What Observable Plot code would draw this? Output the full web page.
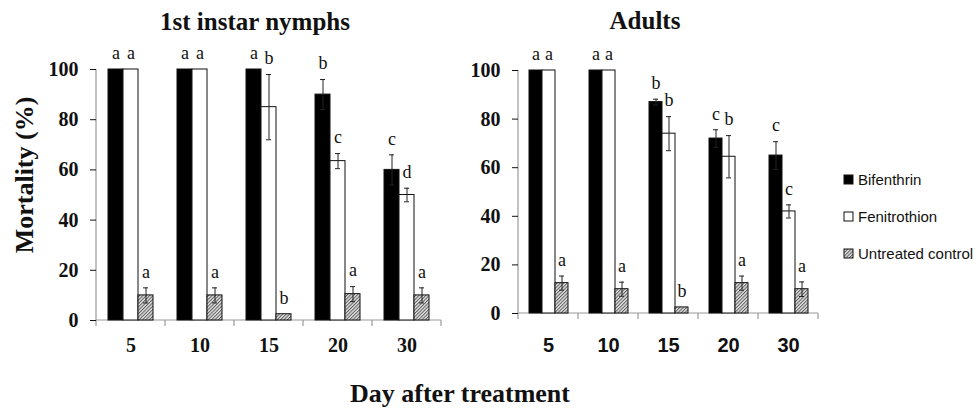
<!DOCTYPE html>
<html>
<head>
<meta charset="utf-8">
<script src="https://cdn.jsdelivr.net/npm/d3@7"></script>
<script src="https://cdn.jsdelivr.net/npm/@observablehq/plot@0.6"></script>
<style>
  body { margin: 0; background: #fff; }
  #root { position: relative; width: 978px; height: 409px; background: #fff; overflow: hidden; }
  #left, #right { position: absolute; top: 0; }
  #left { left: 0; }
  #right { left: 420px; }
  #overlay { position: absolute; left: 0; top: 0; pointer-events: none; }
  g[aria-label="y-axis tick"] { stroke: #999; }
  g[aria-label="y-axis tick label"] { font: bold 20px "Liberation Serif", serif; fill: #111; }
  #left g[aria-label="fx-axis tick label"] { font: bold 20px "Liberation Serif", serif; fill: #111; }
  #right g[aria-label="fx-axis tick label"] { font: bold 20px "Liberation Sans", Arial, sans-serif; fill: #111; }
  g[aria-label="text"] { font: 18px "Liberation Serif", serif; }
</style>
</head>
<body>
<svg width="0" height="0" style="position:absolute">
  <defs>
    <pattern id="hatch" patternUnits="userSpaceOnUse" width="2.4" height="2.4" patternTransform="rotate(45)">
      <rect width="2.4" height="2.4" fill="#e4e4e4"></rect>
      <line x1="0.5" y1="0" x2="0.5" y2="2.4" stroke="#5a5a5a" stroke-width="1"></line>
    </pattern>
  </defs>
</svg>
<div id="root">
  <div id="left"></div>
  <div id="right"></div>
  <svg id="overlay" width="978" height="409">
    <text x="255" y="30" text-anchor="middle" style="font: bold 25px 'Liberation Serif', serif" fill="#111">1st instar nymphs</text>
    <text x="645" y="29" text-anchor="middle" style="font: bold 25px 'Liberation Serif', serif" fill="#111">Adults</text>
    <text transform="translate(33,175) rotate(-90)" text-anchor="middle" style="font: bold 26px 'Liberation Serif', serif" fill="#111">Mortality (%)</text>
    <text x="460" y="402" text-anchor="middle" style="font: bold 26px 'Liberation Serif', serif" fill="#111">Day after treatment</text>
    <g id="legend"></g>
  </svg>
</div>
<script>
// ---- data ----
const days = ["5", "10", "15", "20", "30"];
const series = ["Bifenthrin", "Fenitrothion", "Untreated control"];

// 1st instar nymphs
const nymphBifenthrin = [100, 100, 100, 90, 60];
const nymphBifenthrinErr = [0, 0, 0, 6, 6];
const nymphBifenthrinLetters = ["a", "a", "a", "b", "c"];
const nymphFenitrothion = [100, 100, 85, 63.5, 50];
const nymphFenitrothionErr = [0, 0, 13, 3, 2.7];
const nymphFenitrothionLetters = ["a", "a", "b", "c", "d"];
const nymphControl = [10, 10, 2.5, 10.5, 10];
const nymphControlErr = [3, 3, 0, 3, 3];
const nymphControlLetters = ["a", "a", "b", "a", "a"];

// Adults
const adultBifenthrin = [100, 100, 87, 72, 65];
const adultBifenthrinErr = [0, 0, 1.2, 3.6, 5.7];
const adultBifenthrinLetters = ["a", "a", "b", "c", "c"];
const adultFenitrothion = [100, 100, 74, 64.5, 42];
const adultFenitrothionErr = [0, 0, 7, 8.7, 2.7];
const adultFenitrothionLetters = ["a", "a", "b", "b", "c"];
const adultControl = [12.5, 10, 2.5, 12.5, 10];
const adultControlErr = [2.9, 2.9, 0, 2.9, 3];
const adultControlLetters = ["a", "a", "b", "a", "a"];

const yTicks = [0, 20, 40, 60, 80, 100];
const fills = ["black", "white", "url(#hatch)"];

function makeRows(vals, errs, lets) {
  return days.flatMap((day, i) => series.map((s, j) => ({
    day, series: s, v: vals[j][i], err: errs[j][i], letter: lets[j][i]
  })));
}

function panel(rows, o) {
  const withErr = rows.filter(d => d.err > 0);
  const plot = Plot.plot({
    width: o.width, height: 409,
    marginLeft: 96, marginRight: o.marginRight, marginTop: o.marginTop, marginBottom: o.marginBottom,
    fx: {domain: days, padding: 0, axis: null},
    x: {domain: series, paddingInner: 0, paddingOuter: o.paddingOuter, axis: null},
    y: {domain: [0, 100], axis: null},
    color: {domain: series, range: fills},
    style: {background: "transparent", overflow: "visible", color: "#111"},
    marks: [
      Plot.barY(rows, {fx: "day", x: "series", y: "v", fill: "series", stroke: "#111", strokeWidth: 1, inset: 0}),
      Plot.ruleX(withErr, {fx: "day", x: "series", y1: d => d.v - d.err, y2: d => d.v + d.err, stroke: "#222", strokeWidth: 1}),
      Plot.tickY(withErr, {fx: "day", x: "series", y: d => d.v + d.err, stroke: "#222", insetLeft: o.capInset, insetRight: o.capInset}),
      Plot.tickY(withErr, {fx: "day", x: "series", y: d => d.v - d.err, stroke: "#222", insetLeft: o.capInset, insetRight: o.capInset}),
      Plot.text(rows, {fx: "day", x: "series", y: d => d.v + d.err, text: "letter", dy: -16, fill: "#111"}),
      Plot.axisY({ticks: yTicks, tickSize: 6, tickPadding: 12, label: null}),
      Plot.axisFx({anchor: "bottom", tickSize: 0, tickPadding: o.tickPadding, label: null})
    ]
  });
  // axis lines and group boundary ticks from the plot's own scales
  const fx = plot.scale("fx"), y = plot.scale("y");
  const xs = days.map(d => fx.apply(d));
  const xEnd = xs[xs.length - 1] + fx.bandwidth;
  const y0 = y.apply(0), yTop = y.apply(100);
  const g = d3.select(plot).insert("g", ":first-child").attr("stroke", "#999").attr("stroke-width", 1.2);
  g.append("line").attr("x1", xs[0]).attr("x2", xs[0]).attr("y1", yTop).attr("y2", y0);
  g.append("line").attr("x1", xs[0]).attr("x2", xEnd).attr("y1", y0).attr("y2", y0);
  [...xs, xEnd].forEach(x => g.append("line").attr("x1", x).attr("x2", x).attr("y1", y0).attr("y2", y0 + 6));
  return plot;
}

document.getElementById("left").appendChild(panel(
  makeRows([nymphBifenthrin, nymphFenitrothion, nymphControl],
           [nymphBifenthrinErr, nymphFenitrothionErr, nymphControlErr],
           [nymphBifenthrinLetters, nymphFenitrothionLetters, nymphControlLetters]),
  {width: 450, marginRight: 9, marginTop: 69, marginBottom: 89, paddingOuter: 0.72, capInset: 5, tickPadding: 17}
));

document.getElementById("right").appendChild(panel(
  makeRows([adultBifenthrin, adultFenitrothion, adultControl],
           [adultBifenthrinErr, adultFenitrothionErr, adultControlErr],
           [adultBifenthrinLetters, adultFenitrothionLetters, adultControlLetters]),
  {width: 410, marginRight: 10, marginTop: 70, marginBottom: 96, paddingOuter: 0.78, capInset: 4, tickPadding: 24}
));

// legend
const legend = d3.select("#legend");
series.forEach((s, i) => {
  const cy = 179.5 + i * 37;
  legend.append("rect").attr("x", 844).attr("y", cy - 4.5).attr("width", 9).attr("height", 9)
    .attr("fill", fills[i]).attr("stroke", "#111").attr("stroke-width", 1);
  legend.append("text").attr("x", 858).attr("y", cy + 5.5).attr("fill", "#111")
    .style("font", "15px 'Liberation Sans', Arial, sans-serif").text(s);
});
</script>
</body>
</html>
